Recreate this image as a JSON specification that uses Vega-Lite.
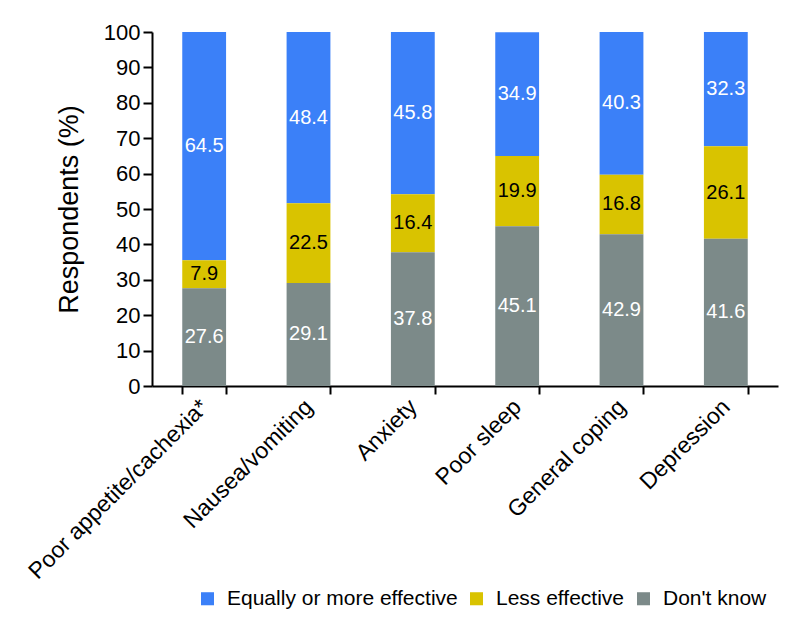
{
  "$schema": "https://vega.github.io/schema/vega-lite/v6.json",
  "width": 626,
  "height": 354,
  "autosize": {"type": "none"},
  "padding": {"left": 152, "top": 32, "right": 31, "bottom": 238},
  "background": "white",
  "config": {
    "font": "Liberation Sans",
    "view": {"stroke": null},
    "axis": {"grid": false, "domainColor": "black", "domainWidth": 2, "tickColor": "black", "tickWidth": 2, "labelColor": "black", "titleColor": "black", "labelOverlap": false, "labelLimit": 0}
  },
  "data": {
    "values": [
      {"cat": "Poor appetite/cachexia*", "resp": "Equally or more effective", "pct": 64.5},
      {"cat": "Poor appetite/cachexia*", "resp": "Less effective", "pct": 7.9},
      {"cat": "Poor appetite/cachexia*", "resp": "Don't know", "pct": 27.6},
      {"cat": "Nausea/vomiting", "resp": "Equally or more effective", "pct": 48.4},
      {"cat": "Nausea/vomiting", "resp": "Less effective", "pct": 22.5},
      {"cat": "Nausea/vomiting", "resp": "Don't know", "pct": 29.1},
      {"cat": "Anxiety", "resp": "Equally or more effective", "pct": 45.8},
      {"cat": "Anxiety", "resp": "Less effective", "pct": 16.4},
      {"cat": "Anxiety", "resp": "Don't know", "pct": 37.8},
      {"cat": "Poor sleep", "resp": "Equally or more effective", "pct": 34.9},
      {"cat": "Poor sleep", "resp": "Less effective", "pct": 19.9},
      {"cat": "Poor sleep", "resp": "Don't know", "pct": 45.1},
      {"cat": "General coping", "resp": "Equally or more effective", "pct": 40.3},
      {"cat": "General coping", "resp": "Less effective", "pct": 16.8},
      {"cat": "General coping", "resp": "Don't know", "pct": 42.9},
      {"cat": "Depression", "resp": "Equally or more effective", "pct": 32.3},
      {"cat": "Depression", "resp": "Less effective", "pct": 26.1},
      {"cat": "Depression", "resp": "Don't know", "pct": 41.6}
    ]
  },
  "transform": [
    {"calculate": "indexof(['Don\\'t know', 'Less effective', 'Equally or more effective'], datum.resp)", "as": "ord"},
    {"stack": "pct", "groupby": ["cat"], "sort": [{"field": "ord", "order": "ascending"}], "as": ["y0", "y1"]},
    {"calculate": "(datum.y0 + datum.y1) / 2", "as": "ymid"}
  ],
  "encoding": {
    "x": {
      "field": "cat", "type": "nominal", "sort": null,
      "scale": {"paddingInner": 0.58, "paddingOuter": 0.29},
      "axis": {"title": null, "labelAngle": -45, "labelAlign": "right", "labelBaseline": "middle", "labelFontSize": 23, "tickSize": 8, "labelPadding": 9, "tickBand": "extent", "labelLimit": 0}
    }
  },
  "layer": [
    {
      "mark": {"type": "bar"},
      "encoding": {
        "y": {"field": "y0", "type": "quantitative", "scale": {"domain": [0, 100]},
          "axis": {"title": "Respondents (%)", "titleFontSize": 27, "titleFontWeight": "normal", "titlePadding": 20, "labelFontSize": 22, "values": [0,10,20,30,40,50,60,70,80,90,100], "tickSize": 9, "labelPadding": 3, "labelOverlap": false}},
        "y2": {"field": "y1"},
        "color": {
          "field": "resp", "type": "nominal",
          "scale": {"domain": ["Equally or more effective", "Less effective", "Don't know"], "range": ["#3b80f8", "#d9c300", "#7c8a89"]},
          "legend": {"title": null, "orient": "none", "direction": "horizontal", "legendX": 45, "legendY": 556, "symbolType": "square", "symbolSize": 170, "symbolStrokeWidth": 0, "symbolOpacity": 1, "labelFontSize": 21, "labelColor": "black", "labelLimit": 0, "columnPadding": 8, "labelOffset": 9, "padding": 0}
        }
      }
    },
    {
      "mark": {"type": "text", "fontSize": 20, "baseline": "middle", "align": "center"},
      "encoding": {
        "y": {"field": "ymid", "type": "quantitative",
          "axis": {"title": "Respondents (%)", "titleFontSize": 27, "titleFontWeight": "normal", "titlePadding": 20, "labelFontSize": 22, "values": [0,10,20,30,40,50,60,70,80,90,100], "tickSize": 9, "labelPadding": 3, "labelOverlap": false}},
        "text": {"field": "pct", "type": "quantitative", "format": ".1f"},
        "color": {"condition": {"test": "datum.resp === 'Less effective'", "value": "black"}, "value": "white"}
      }
    }
  ]
}
